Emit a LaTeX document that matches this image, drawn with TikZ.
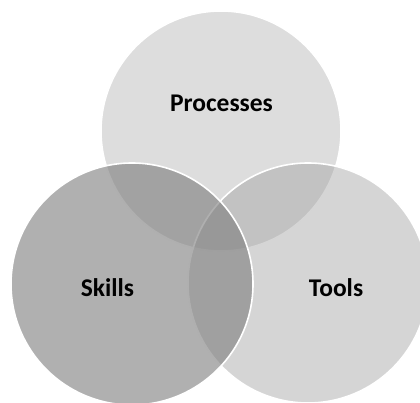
\documentclass[tikz,border=0pt]{standalone}
\usepackage{fontspec}
\setmainfont{Carlito}
\begin{document}
\begin{tikzpicture}[x=1pt,y=-1pt,
  lbl/.style={font=\fontsize{25.5}{29}\selectfont\bfseries, text=black, anchor=base, inner sep=0pt},
  circ/.style={draw=white, line width=1.6pt}]
\useasboundingbox (0,0) rectangle (420,403);
\begin{scope}
\clip (0,0) rectangle (420,403);
\fill[fill={rgb,255:red,221;green,221;blue,221}, draw=white, line width=1.6pt] (221,131) circle (120);
\path[circ, fill={rgb,255:red,160;green,160;blue,160}, fill opacity=0.44] (308,283) circle (120);
\path[circ, fill={rgb,255:red,127;green,127;blue,127}, fill opacity=0.62] (132,284) circle (121);
\end{scope}
\node[lbl] (processes) at (221.5,112) {Processes};
\node[lbl] (skills) at (107.5,296.5) {Skills};
\node[lbl] (tools) at (336,296.5) {Tools};
\end{tikzpicture}
\end{document}
